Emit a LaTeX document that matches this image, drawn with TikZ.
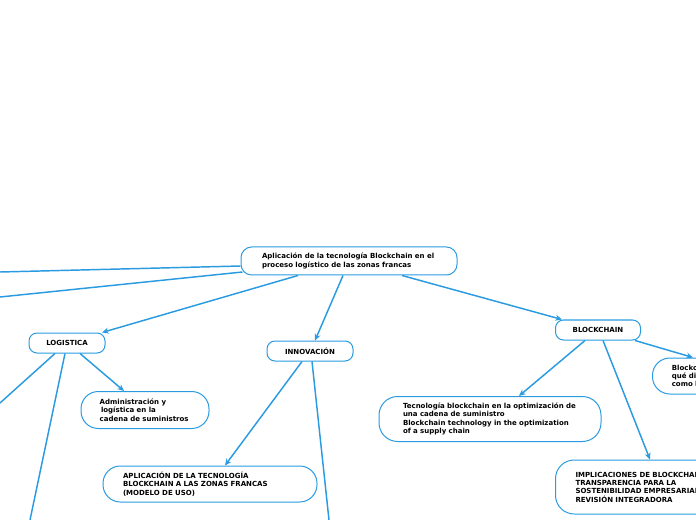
\documentclass[tikz,border=0pt]{standalone}
\usepackage{fontspec}
\setmainfont{DejaVu Sans}
\usetikzlibrary{arrows.meta}
\definecolor{mapblue}{HTML}{2A9BE0}

\begin{document}
\begin{tikzpicture}[x=0.75pt,y=-0.75pt,
  mapbox/.style={draw=mapblue,line width=0.75pt,rounded corners=8pt,fill=white,inner sep=0pt,
    font=\fontsize{5.25}{6.25}\selectfont\bfseries,align=left},
  tagbox/.style={mapbox,rounded corners=6pt,minimum height=15pt,align=center},
  link/.style={draw=mapblue,line width=1.1pt},
  arrowlink/.style={link,-{Stealth[length=5pt,width=4.5pt]}}]
  \path[use as bounding box] (0,0) rectangle (696,520);
  \clip (0,0) rectangle (696,520);
  \node[mapbox,minimum width=162pt,minimum height=21pt,text width=130.5pt] (root) at (349,261) {Aplicación de la tecnología Blockchain en el\\proceso logístico de las zonas francas};
  \node[tagbox,minimum width=57pt] (logistica) at (67,343) {LOGISTICA};
  \node[tagbox,minimum width=64.5pt] (innovacion) at (310,351) {INNOVACIÓN};
  \node[tagbox,minimum width=63.75pt] (blockchain) at (598,330) {BLOCKCHAIN};
  \node[mapbox,rounded corners=13pt,minimum width=96pt,minimum height=27.75pt,text width=68pt] (admin) at (145,410) {Administración y\\\hspace{1pt}logística en la\\cadena de suministros};
  \node[mapbox,rounded corners=14pt,minimum width=166.5pt,minimum height=33.75pt,text width=130.5pt] (optimizacion) at (490,419) {Tecnología blockchain en la optimización de\\una cadena de suministro\\Blockchain technology in the optimization\\of a supply chain};
  \node[mapbox,rounded corners=14pt,anchor=west,minimum width=170pt,minimum height=40.5pt,text width=140pt,inner xsep=14.25pt] (implicaciones) at (555,487) {IMPLICACIONES DE BLOCKCHAIN\\TRANSPARENCIA PARA LA\\SOSTENIBILIDAD EMPRESARIAL\\REVISIÓN INTEGRADORA};
  \node[mapbox,rounded corners=13pt,minimum width=160.5pt,minimum height=27pt,text width=130.5pt] (aplicacion) at (210,484) {APLICACIÓN DE LA TECNOLOGÍA\\BLOCKCHAIN A LAS ZONAS FRANCAS\\(MODELO DE USO)};
  \node[mapbox,rounded corners=13pt,anchor=west,minimum width=75pt,minimum height=27pt,text width=46pt,inner xsep=14.25pt] (definicion) at (652,376) {Blockchain\\qué di\\como l};
  \coordinate (outa) at (0,272);
  \coordinate (outb) at (0,297);
  \coordinate (outc) at (0,403);
  \coordinate (outd) at (30,520);
  \coordinate (oute) at (329,520);
  \draw[link] ([yshift=-3.75pt]root.west) -- (outa);
  \draw[link] ([xshift=1.5pt,yshift=-8.25pt]root.west) -- (outb);
  \draw[arrowlink] ([xshift=-38.25pt]root.south) -- ([xshift=26.25pt]logistica.north);
  \draw[arrowlink] ([xshift=-4.5pt]root.south) -- ([xshift=3.75pt]innovacion.north);
  \draw[arrowlink] ([xshift=39.75pt]root.south) -- ([xshift=-27pt]blockchain.north);
  \draw[link] ([xshift=-9pt]logistica.south) -- (outc);
  \draw[link] ([xshift=-1.5pt]logistica.south) -- (outd);
  \draw[arrowlink] ([xshift=9.75pt]logistica.south) -- ([xshift=-15.75pt]admin.north);
  \draw[arrowlink] ([xshift=-6pt]innovacion.south) -- ([xshift=11.25pt]aplicacion.north);
  \draw[link] ([xshift=1.5pt]innovacion.south) -- (oute);
  \draw[arrowlink] ([xshift=-9.75pt]blockchain.south) -- ([xshift=21.75pt]optimizacion.north);
  \draw[arrowlink] ([xshift=3.75pt]blockchain.south) -- ([xshift=71.25pt]implicaciones.north west);
  \draw[arrowlink] ([xshift=27.75pt]blockchain.south) -- ([xshift=30.75pt]definicion.north west);
\end{tikzpicture}
\end{document}
